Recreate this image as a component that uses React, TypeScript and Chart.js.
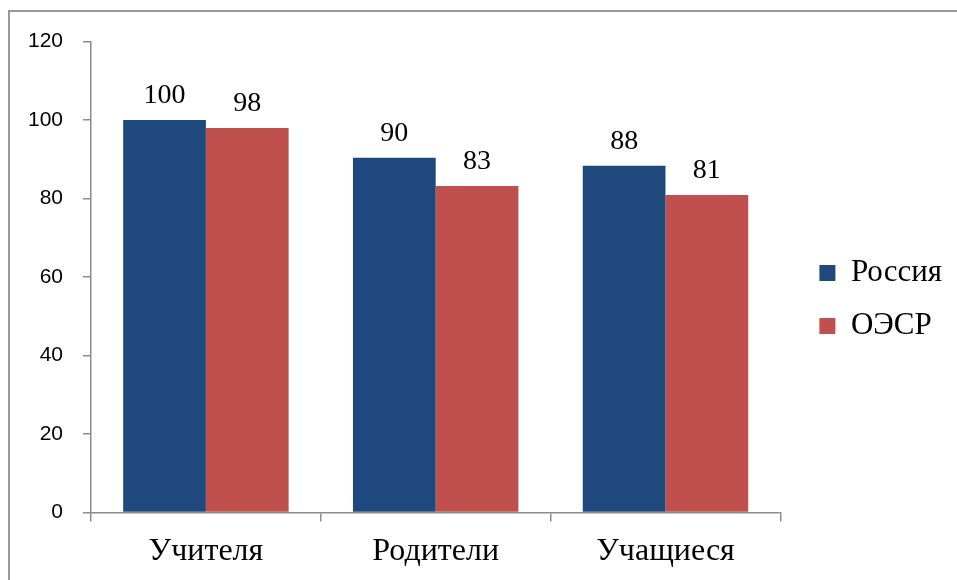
import React, { useEffect, useRef } from "react";
import { Chart, registerables } from "chart.js";

Chart.register(...registerables);

const categories = ["Учителя", "Родители", "Учащиеся"];
const russia = [100, 90.4, 88.4];
const oecd = [98, 83.2, 80.9];
const seriesNames = ["Россия", "ОЭСР"];
const yTicks = [0, 20, 40, 60, 80, 100, 120];

const SERIF = "'Liberation Serif', 'Times New Roman', serif";
const SANS = "'Liberation Sans', Arial, sans-serif";
const AXIS = "#8c8c8c";

const dataLabels = {
  id: "dataLabels",
  afterDatasetsDraw(chart: any) {
    const ctx = chart.ctx;
    ctx.save();
    ctx.font = `28px ${SERIF}`;
    ctx.fillStyle = "#000";
    ctx.textAlign = "center";
    ctx.textBaseline = "alphabetic";
    chart.data.datasets.forEach((ds: any, i: number) => {
      const meta = chart.getDatasetMeta(i);
      meta.data.forEach((el: any, j: number) => {
        const v = ds.data[j];
        ctx.fillText(String(Math.round(v)), el.x, el.y - 17);
      });
    });
    ctx.restore();
  },
};

export default function App() {
  const ref = useRef<HTMLCanvasElement>(null);
  useEffect(() => {
    if (!ref.current) return;
    const chart = new Chart(ref.current, {
      type: "bar",
      data: {
        labels: categories,
        datasets: [
          { label: seriesNames[0], data: russia, backgroundColor: "#1F497D", borderWidth: 0 },
          { label: seriesNames[1], data: oecd, backgroundColor: "#C0504D", borderWidth: 0 },
        ],
      },
      options: {
        animation: false,
        responsive: false,
        layout: { padding: { top: 26, right: 5, bottom: 0, left: 0 } },
        datasets: { bar: { barPercentage: 1, categoryPercentage: 0.72 } } as any,
        plugins: {
          tooltip: { enabled: false },
          legend: {
            position: "right",
            align: "start",
            title: { display: true, text: " ", font: { size: 10 }, padding: { top: 93.5, bottom: 95 } },
            labels: {
              boxWidth: 16,
              boxHeight: 16,
              padding: 22,
              color: "#000",
              font: { family: SERIF, size: 31 },
            },
          },
        },
        scales: {
          x: {
            grid: { display: true, drawOnChartArea: false, drawTicks: true, tickLength: 9, color: AXIS, lineWidth: 1.5, offset: true },
            border: { display: true, color: AXIS, width: 1.5 },
            ticks: { color: "#000", font: { family: SERIF, size: 32 }, padding: 11, maxRotation: 0 },
          },
          y: {
            min: 0,
            max: 120,
            afterBuildTicks(scale: any) {
              scale.ticks = yTicks.map((v) => ({ value: v }));
            },
            afterFit(scale: any) {
              scale.width = 81;
            },
            grid: { display: true, drawOnChartArea: false, drawTicks: true, tickLength: 8, color: AXIS, lineWidth: 1.5 },
            border: { display: true, color: AXIS, width: 1.5 },
            ticks: { color: "#000", font: { family: SANS, size: 21 }, padding: 20 },
          },
          y2: {
            position: "right",
            display: true,
            grid: { display: false },
            border: { display: false },
            ticks: { display: false },
            afterFit(scale: any) {
              scale.width = 17;
            },
          },
        },
      } as any,
      plugins: [dataLabels],
    });
    return () => chart.destroy();
  }, []);
  return (
    <div style={{ position: "fixed", left: 0, top: 0, width: 957, height: 580, overflow: "hidden", background: "#fff" }}>
      <div
        style={{
          position: "absolute",
          left: 8,
          top: 10,
          width: 1000,
          height: 1000,
          borderTop: "2px solid #999",
          borderLeft: "2px solid #999",
        }}
      />
      <canvas ref={ref} width={947} height={573} style={{ position: "absolute", left: 10, top: 9, width: 947, height: 573 }} />
    </div>
  );
}
